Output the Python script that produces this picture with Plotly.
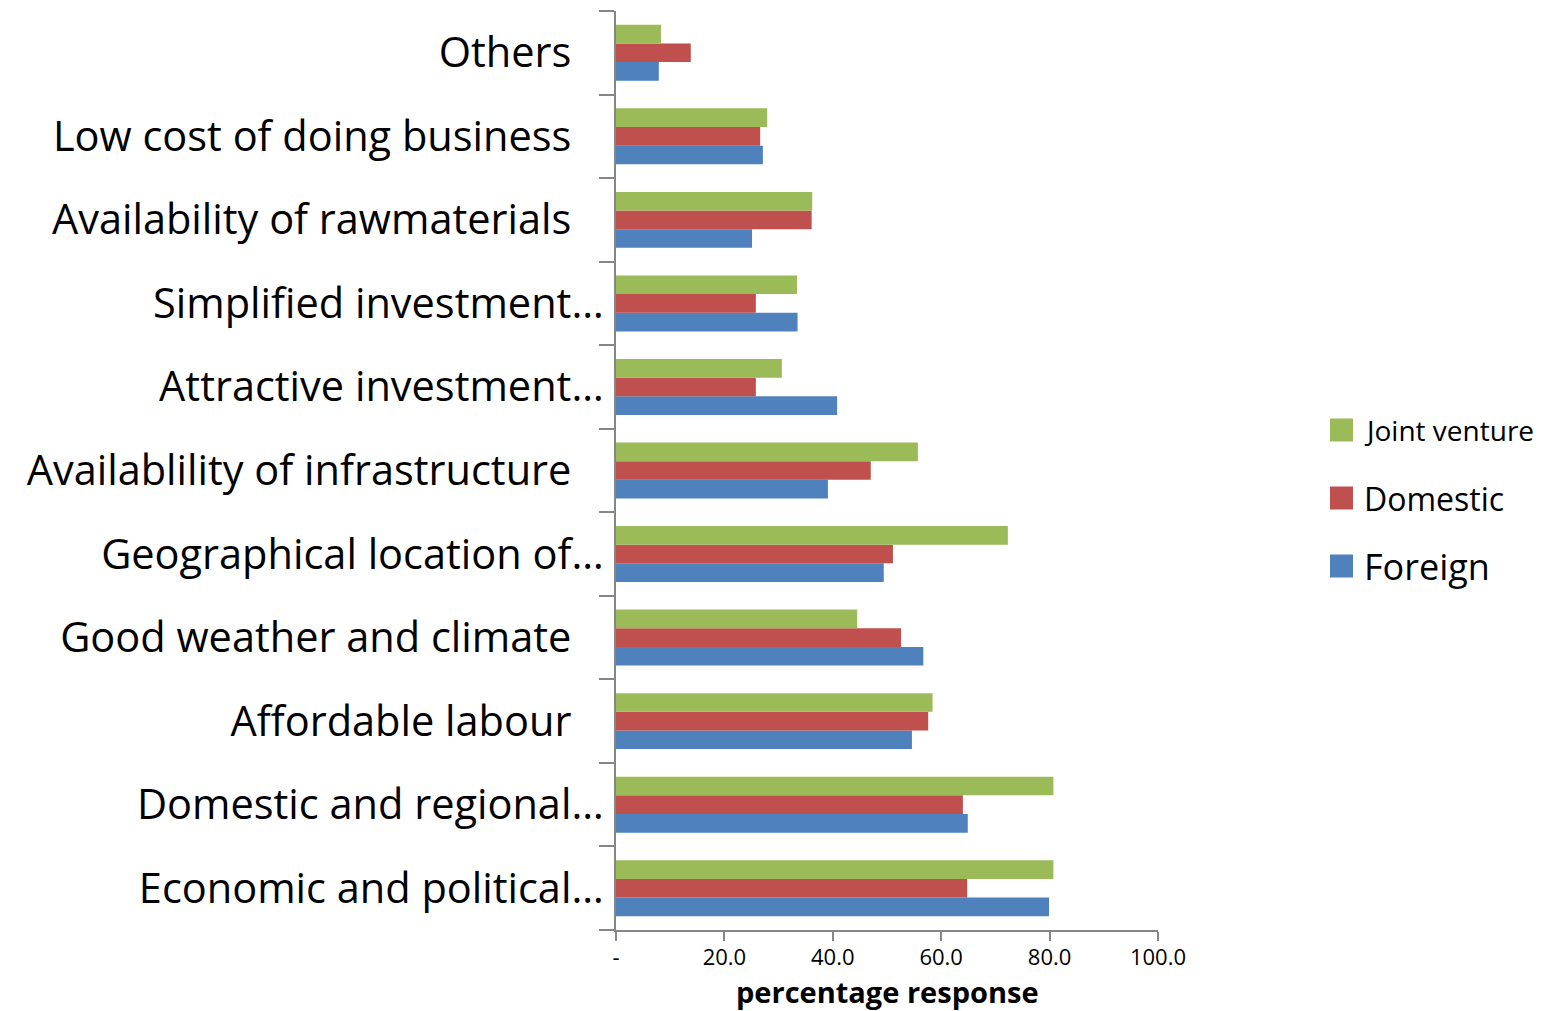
import plotly.graph_objects as go

# Reasons for choosing the location, bottom to top
categories = [
    "Economic and political…",
    "Domestic and regional…",
    "Affordable labour",
    "Good weather and climate",
    "Geographical location of…",
    "Availablility of infrastructure",
    "Attractive investment…",
    "Simplified investment…",
    "Availability of rawmaterials",
    "Low cost of doing business",
    "Others",
]

foreign = [79.9, 64.9, 54.6, 56.7, 49.4, 39.1, 40.8, 33.5, 25.1, 27.1, 7.9]
domestic = [64.8, 64.0, 57.6, 52.6, 51.1, 47.0, 25.8, 25.8, 36.1, 26.6, 13.8]
joint_venture = [80.7, 80.7, 58.4, 44.5, 72.3, 55.7, 30.6, 33.4, 36.2, 27.9, 8.3]

x_tickvals = [0, 20, 40, 60, 80, 100]
x_ticktext = ["-", "20.0", "40.0", "60.0", "80.0", "100.0"]

series = [
    ("Foreign", foreign, "#4F81BD"),
    ("Domestic", domestic, "#C0504D"),
    ("Joint venture", joint_venture, "#9BBB59"),
]

FONT = "Open Sans"
AXIS_GREY = "#868686"

W, H = 1543, 1011
L, R, T, B = 616, 385, 11, 81


def label_text(c):
    # full-length labels sit a little further from the axis than truncated ones
    return c if c.endswith("…") else c + "\u00a0\u00a0\u00a0"


fig = go.Figure()
for name, vals, color in series:
    fig.add_trace(go.Bar(
        y=categories, x=vals, name=name, orientation="h",
        marker=dict(color=color, line=dict(width=0)),
        showlegend=False,
    ))

# Positions outside the plot area, given in pixels and converted to paper units
pw = W - L - R
ph = H - T - B


def px_x(px):
    return (px - L) / pw


def px_y(py):
    return (H - B - py) / ph


# Legend: swatches and labels to the right of the plot
legend_rows = [("Joint venture", "#9BBB59", 28, 430),
               ("Domestic", "#C0504D", 32, 498),
               ("Foreign", "#4F81BD", 36, 566)]
for name, color, size, cy in legend_rows:
    fig.add_shape(type="rect", xref="paper", yref="paper",
                  x0=px_x(1330), x1=px_x(1353),
                  y0=px_y(cy + 11.5), y1=px_y(cy - 11.5),
                  fillcolor=color, line=dict(width=0))
    fig.add_annotation(xref="paper", yref="paper", x=px_x(1362), y=px_y(cy),
                       xanchor="left", yanchor="middle", showarrow=False,
                       text=name, font=dict(family=FONT, size=size, color="black"))

# x-axis title
fig.add_annotation(xref="paper", yref="paper", x=0.5, y=px_y(971),
                   xanchor="center", yanchor="top", showarrow=False,
                   borderpad=0,
                   text="<b>percentage response</b>",
                   font=dict(family=FONT, size=29, color="black"))

fig.update_layout(
    width=W, height=H,
    margin=dict(l=L, r=R, t=T, b=B, pad=0, autoexpand=False),
    barmode="group", bargap=0.33, bargroupgap=0,
    plot_bgcolor="white", paper_bgcolor="white",
    font=dict(family=FONT, color="black"),
    xaxis=dict(
        range=[0, 100], tickvals=x_tickvals, ticktext=x_ticktext,
        automargin=False,
        showgrid=False, zeroline=False,
        showline=True, linecolor=AXIS_GREY, linewidth=2,
        ticks="outside", ticklen=9, tickwidth=2, tickcolor=AXIS_GREY,
        tickfont=dict(family=FONT, size=22, color="black"),
        ticklabelstandoff=-2,
    ),
    yaxis=dict(
        type="category",
        tickvals=categories,
        ticktext=[label_text(c) for c in categories],
        automargin=False,
        showgrid=False, zeroline=False,
        showline=True, linecolor=AXIS_GREY, linewidth=2,
        ticks="outside", tickson="boundaries", ticklen=15, tickwidth=2,
        tickcolor=AXIS_GREY,
        tickfont=dict(family=FONT, size=41.5, color="black"),
        ticklabelstandoff=2,
    ),
)

fig.write_html("out.html")
